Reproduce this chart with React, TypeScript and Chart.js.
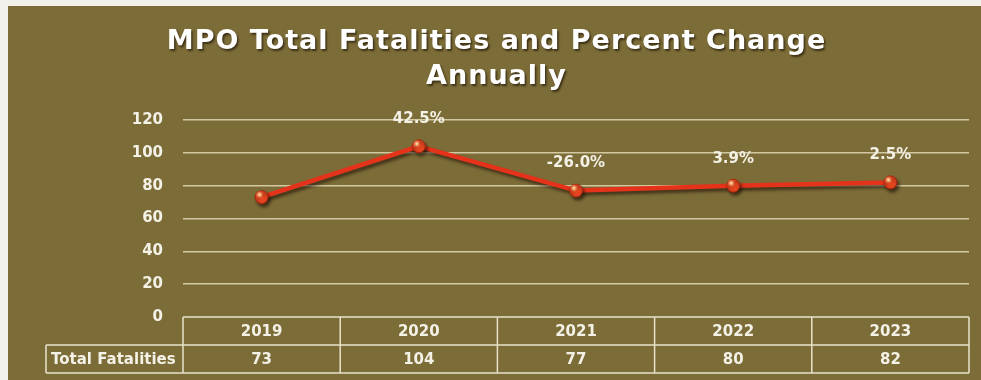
import React, { useEffect, useRef } from "react";
import { Chart, registerables } from "chart.js";

Chart.register(...registerables);

const categories = ["2019", "2020", "2021", "2022", "2023"];
const fatalities = [73, 104, 77, 80, 82];
const percentChange = ["", "42.5%", "-26.0%", "3.9%", "2.5%"];
const titleLines = ["MPO Total Fatalities and Percent Change", "Annually"];
const rowLabel = "Total Fatalities";
const yTicks = { min: 0, max: 120, step: 20 };

const BG = "#7c6c38";
const TEXT = "#f4f1e6";
const LINE = "#e8e2cc";

export default function App() {
  const ref = useRef<HTMLCanvasElement | null>(null);

  useEffect(() => {
    if (!ref.current) return;

    const bgPlugin = {
      id: "bg",
      beforeDraw(chart: any) {
        const { ctx, width, height } = chart;
        ctx.save();
        ctx.fillStyle = BG;
        ctx.fillRect(0, 0, width, height);
        ctx.restore();
      },
    };

    const titlePlugin = {
      id: "customTitle",
      afterDraw(chart: any) {
        const { ctx, width } = chart;
        ctx.save();
        ctx.font = "bold 27px 'DejaVu Sans'";
        ctx.textAlign = "center";
        ctx.textBaseline = "middle";
        try { (ctx as any).letterSpacing = "1px"; } catch (e) {}
        ctx.shadowColor = "rgba(40,30,10,0.75)";
        ctx.shadowOffsetX = 1.5;
        ctx.shadowOffsetY = 2;
        ctx.shadowBlur = 2;
        ctx.fillStyle = "#ffffff";
        titleLines.forEach((t, i) => {
          ctx.fillText(t, width / 2 + 2, 36 + i * 35);
        });
        ctx.restore();
      },
    };

    const shadowPlugin = {
      id: "lineShadow",
      beforeDatasetDraw(chart: any) {
        const ctx = chart.ctx;
        ctx.save();
        ctx.shadowColor = "rgba(30,15,5,0.6)";
        ctx.shadowOffsetX = 2;
        ctx.shadowOffsetY = 3;
        ctx.shadowBlur = 3;
      },
      afterDatasetDraw(chart: any) {
        chart.ctx.restore();
      },
    };

    const labelsPlugin = {
      id: "pctLabels",
      afterDatasetsDraw(chart: any) {
        const { ctx } = chart;
        const meta = chart.getDatasetMeta(0);
        ctx.save();
        // glossy highlight on markers
        meta.data.forEach((pt: any) => {
          const g = ctx.createRadialGradient(pt.x - 2, pt.y - 2.5, 0.5, pt.x - 2, pt.y - 2.5, 4);
          g.addColorStop(0, "rgba(255,225,170,0.95)");
          g.addColorStop(1, "rgba(255,160,90,0)");
          ctx.fillStyle = g;
          ctx.beginPath();
          ctx.arc(pt.x - 2, pt.y - 2.5, 4, 0, Math.PI * 2);
          ctx.fill();
        });
        ctx.font = "bold 15px 'DejaVu Sans'";
        ctx.fillStyle = TEXT;
        ctx.textAlign = "center";
        ctx.textBaseline = "middle";
        meta.data.forEach((pt: any, i: number) => {
          const t = percentChange[i];
          if (!t) return;
          ctx.fillText(t, pt.x, pt.y - 27);
        });
        ctx.restore();
      },
    };

    const tablePlugin = {
      id: "dataTable",
      afterDraw(chart: any) {
        const { ctx, chartArea } = chart;
        const xs = chart.scales.x;
        const n = categories.length;
        const colW = (chartArea.right - chartArea.left) / n;
        const top = chartArea.bottom;
        const rowH = 28;
        const leftLabel = 38;
        ctx.save();
        ctx.strokeStyle = LINE;
        ctx.lineWidth = 1.5;
        ctx.beginPath();
        ctx.moveTo(chartArea.left, top);
        ctx.lineTo(chartArea.right, top);
        ctx.moveTo(leftLabel, top + rowH);
        ctx.lineTo(chartArea.right, top + rowH);
        ctx.moveTo(leftLabel, top + 2 * rowH);
        ctx.lineTo(chartArea.right, top + 2 * rowH);
        ctx.moveTo(leftLabel, top + rowH);
        ctx.lineTo(leftLabel, top + 2 * rowH);
        for (let i = 0; i <= n; i++) {
          const x = chartArea.left + i * colW;
          ctx.moveTo(x, top);
          ctx.lineTo(x, top + 2 * rowH);
        }
        ctx.stroke();
        ctx.fillStyle = TEXT;
        ctx.font = "bold 15px 'DejaVu Sans'";
        ctx.textAlign = "center";
        ctx.textBaseline = "middle";
        categories.forEach((c, i) => {
          const x = xs.getPixelForValue(i);
          ctx.fillText(c, x, top + rowH / 2 + 1);
          ctx.fillText(String(fatalities[i]), x, top + rowH * 1.5 + 1);
        });
        ctx.textAlign = "left";
        ctx.fillText(rowLabel, leftLabel + 5, top + rowH * 1.5 + 1);
        ctx.restore();
      },
    };

    const chart = new Chart(ref.current, {
      type: "line",
      data: {
        labels: categories,
        datasets: [
          {
            label: rowLabel,
            data: fatalities,
            borderColor: "#e5321a",
            borderWidth: 4.5,
            pointRadius: 6.5,
            pointBackgroundColor: "#e2451f",
            pointBorderColor: "#a8250f",
            pointBorderWidth: 1,
            tension: 0,
          },
        ],
      },
      options: {
        animation: false,
        responsive: false,
        maintainAspectRatio: false,
        layout: { padding: { top: 114, bottom: 63, left: 0, right: 12 } },
        plugins: {
          legend: { display: false },
          title: { display: false },
          tooltip: { enabled: false },
        },
        scales: {
          x: {
            display: false,
            offset: true,
          },
          y: {
            min: yTicks.min,
            max: yTicks.max,
            afterFit(scale: any) {
              scale.width = 175;
            },
            ticks: {
              stepSize: yTicks.step,
              color: TEXT,
              padding: 20,
              font: { family: "'DejaVu Sans'", size: 15, weight: "bold" },
            },
            grid: {
              color: (c: any) => (c.tick && c.tick.value === 0 ? "rgba(0,0,0,0)" : "rgba(226,216,180,0.85)"),
              lineWidth: 1.5,
              drawTicks: false,
            },
            border: { display: false },
          },
        },
      },
      plugins: [bgPlugin, shadowPlugin, labelsPlugin, tablePlugin, titlePlugin],
    });

    return () => chart.destroy();
  }, []);

  return (
    <div style={{ position: "fixed", left: 0, top: 0, width: 981, height: 380, background: "#f2f0ea", overflow: "hidden" }}>
      <canvas ref={ref} width={973} height={374} style={{ position: "absolute", left: 8, top: 6, width: 973, height: 374 }} />
    </div>
  );
}
